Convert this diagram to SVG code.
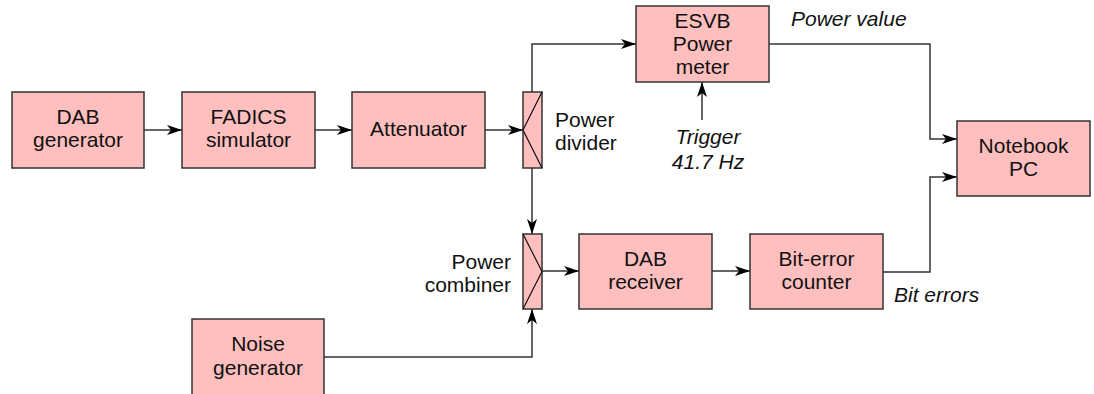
<svg xmlns="http://www.w3.org/2000/svg" width="1094" height="394" viewBox="0 0 1094 394">
<defs>
<marker id="arr" markerWidth="16" markerHeight="12" refX="15" refY="6" orient="auto" markerUnits="userSpaceOnUse">
<path d="M0,1 L15,6 L0,11 L4,6 Z" fill="#000"/>
</marker>
<style>
.box{fill:#ffbfbf;stroke:#333;stroke-width:1.5}
.t{font-family:"Liberation Sans",Arial,sans-serif;font-size:21px;fill:#111;text-anchor:middle}
.l{font-family:"Liberation Sans",Arial,sans-serif;font-size:21px;fill:#111}
.i{font-family:"Liberation Sans",Arial,sans-serif;font-size:21px;fill:#111;font-style:italic}
.c{fill:none;stroke:#333;stroke-width:1.5}
.d{fill:none;stroke:#111;stroke-width:1.2}
</style>
</defs>
<rect width="1094" height="394" fill="#fff"/>
<g id="connectors">
<path class="c" d="M144,130 H182" marker-end="url(#arr)"/>
<path class="c" d="M315,130 H352" marker-end="url(#arr)"/>
<path class="c" d="M485,130 H523" marker-end="url(#arr)"/>
<path class="c" d="M532,92 V44 H636" marker-end="url(#arr)"/>
<path class="c" d="M532,168 V234" marker-end="url(#arr)"/>
<path class="c" d="M324,357 H532 V309" marker-end="url(#arr)"/>
<path class="c" d="M542,271 H579" marker-end="url(#arr)"/>
<path class="c" d="M712,271 H750" marker-end="url(#arr)"/>
<path class="c" d="M702,120 V82" marker-end="url(#arr)"/>
<path class="c" d="M769,44 H930 V139 H957" marker-end="url(#arr)"/>
<path class="c" d="M883,272 H930 V177 H957" marker-end="url(#arr)"/>
</g>
<g id="dab-generator">
<rect class="box" x="12" y="92" width="132" height="76"/>
<text class="t" x="78" y="124">DAB</text>
<text class="t" x="78" y="147">generator</text>
</g>
<g id="fadics-simulator">
<rect class="box" x="182" y="92" width="133" height="76"/>
<text class="t" x="248.5" y="124">FADICS</text>
<text class="t" x="248.5" y="147">simulator</text>
</g>
<g id="attenuator">
<rect class="box" x="352" y="92" width="133" height="76"/>
<text class="t" x="418.5" y="136">Attenuator</text>
</g>
<g id="power-divider">
<rect class="box" x="523" y="92" width="19" height="76"/>
<path class="d" d="M542,92 L523,130 L542,168"/>
<text class="l" x="555" y="127">Power</text>
<text class="l" x="555" y="150">divider</text>
</g>
<g id="esvb-power-meter">
<rect class="box" x="636" y="6" width="133" height="76"/>
<text class="t" x="702.5" y="28">ESVB</text>
<text class="t" x="702.5" y="51">Power</text>
<text class="t" x="702.5" y="74">meter</text>
</g>
<g id="trigger">
<text class="i" x="708" y="144" text-anchor="middle">Trigger</text>
<text class="i" x="708" y="169" text-anchor="middle">41.7 Hz</text>
</g>
<g id="power-value">
<text class="i" x="791" y="26">Power value</text>
</g>
<g id="notebook-pc">
<rect class="box" x="957" y="121" width="133" height="75"/>
<text class="t" x="1023.5" y="153">Notebook</text>
<text class="t" x="1023.5" y="176">PC</text>
</g>
<g id="power-combiner">
<rect class="box" x="523" y="234" width="19" height="75"/>
<path class="d" d="M523,234 L542,271.5 L523,309"/>
<text class="l" x="511" y="269" text-anchor="end">Power</text>
<text class="l" x="511" y="292" text-anchor="end">combiner</text>
</g>
<g id="dab-receiver">
<rect class="box" x="579" y="234" width="133" height="75"/>
<text class="t" x="645.5" y="266">DAB</text>
<text class="t" x="645.5" y="289">receiver</text>
</g>
<g id="bit-error-counter">
<rect class="box" x="750" y="234" width="133" height="75"/>
<text class="t" x="816.5" y="266">Bit-error</text>
<text class="t" x="816.5" y="289">counter</text>
</g>
<g id="bit-errors">
<text class="i" x="894" y="302">Bit errors</text>
</g>
<g id="noise-generator">
<rect class="box" x="192" y="319" width="132" height="77"/>
<text class="t" x="258" y="351">Noise</text>
<text class="t" x="258" y="375">generator</text>
</g>
</svg>
